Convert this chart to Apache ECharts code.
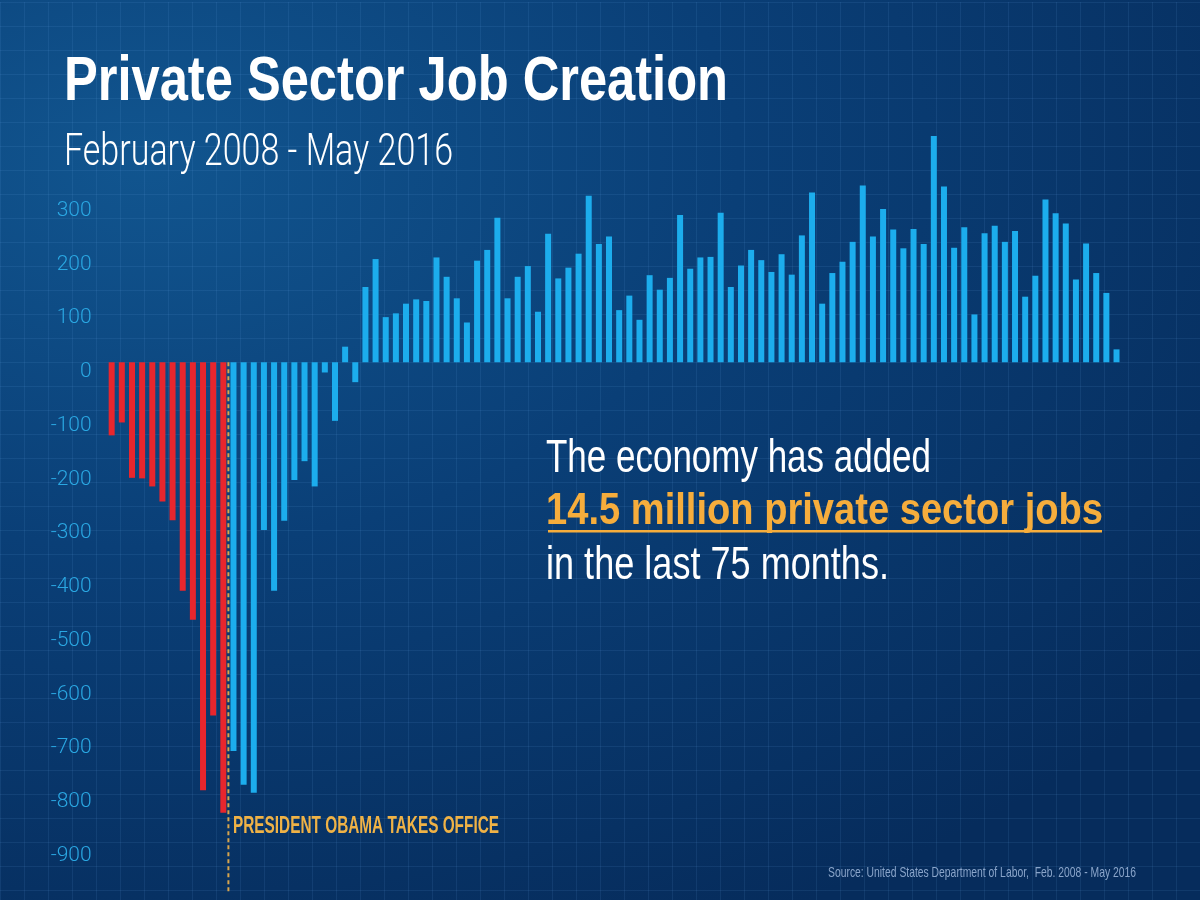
<!DOCTYPE html>
<html>
<head>
<meta charset="utf-8"/>
<title>Private Sector Job Creation</title>
<script src="https://cdn.jsdelivr.net/npm/echarts@6/dist/echarts.min.js"></script>
<style>
  html, body { margin: 0; padding: 0; }
  #chart {
    width: 1200px; height: 900px;
    background: radial-gradient(ellipse 110% 95% at 12% 18%, #11558f 0%, #0a3f77 45%, #062c5c 100%);
  }
</style>
</head>
<body>
<div id="chart"></div>
<script type="text/javascript">
    // monthly change in private sector jobs (thousands), Feb 2008 - May 2016
    var startYear = 2008, startMonth = 2;

    // Feb 2008 - Jan 2009
    var beforeOffice = [-136, -112, -215, -216, -231, -259, -294, -425, -479, -796, -657, -838];

    // Feb 2009 - May 2016
    var afterOffice = [
        -723, -786, -801, -312, -425, -295, -219, -184, -231, -19, -109, 29,
        -37, 140, 192, 84, 91, 109, 117, 114, 195, 159, 119, 74,
        189, 209, 269, 119, 159, 179, 94, 239, 156, 176, 202, 310,
        220, 234, 97, 124, 79, 162, 135, 157, 274, 174, 195, 196,
        278, 140, 180, 209, 190, 168, 201, 163, 236, 316, 109, 166,
        187, 224, 329, 234, 285, 247, 212, 248, 220, 421, 327, 213,
        251, 89, 240, 254, 224, 244, 122, 161, 303, 277, 258, 154,
        221, 166, 129, 24
    ];

    var yTicks = [300, 200, 100, 0, -100, -200, -300, -400, -500, -600, -700, -800, -900];

    var officeAt = beforeOffice.length - 0.5;   // between Jan and Feb 2009
    var officeLineEnd = -985;

    var total = beforeOffice.length + afterOffice.length;
    var months = [];
    for (var i = 0; i < total; i++) {
        var m = startMonth - 1 + i;
        months.push((startYear + Math.floor(m / 12)) + '-' + ('0' + (m % 12 + 1)).slice(-2));
    }
    var redData = beforeOffice.concat(afterOffice.map(function () { return '-'; }));
    var blueData = beforeOffice.map(function () { return '-'; }).concat(afterOffice);

    var NARROW = "'Liberation Sans Narrow', 'Liberation Sans', 'DejaVu Sans Condensed', sans-serif";
    var LIGHT = "Roboto, Lato, 'Open Sans', sans-serif";

    // squeeze text horizontally so it covers the same width as in the picture
    var ctx = document.createElement('canvas').getContext('2d');
    var fitText = function (text, weight, size, family, width) {
        ctx.font = weight + ' ' + size + 'px ' + family;
        return width / ctx.measureText(text).width;
    };
    var label = function (text, x, y, size, weight, family, color, width, align) {
        return {
            type: 'text',
            x: x, y: y,
            scaleX: fitText(text, weight, size, family, width),
            silent: true,
            z: 10,
            style: {
                text: text,
                fill: color,
                fontSize: size,
                fontWeight: weight,
                fontFamily: family,
                align: align || 'left',
                verticalAlign: 'middle'
            }
        };
    };

    var myChart = echarts.init(document.getElementById('chart'));

    var gridLine = { lineStyle: { color: 'rgba(110,170,235,0.11)', width: 1 } };

    var option = {
        backgroundColor: 'transparent',
        animation: false,
        grid: [
            { left: 106.6, right: 78.4, top: 93.5, bottom: 0.2 },
            { left: 0, right: 0, top: 2, bottom: 0 }
        ],
        xAxis: [
            { type: 'category', gridIndex: 0, data: months, show: false },
            { type: 'value', gridIndex: 0, min: -0.5, max: total - 0.5, show: false },
            {
                type: 'value', gridIndex: 1, min: 0, max: 1200, interval: 24,
                axisLine: { show: false }, axisTick: { show: false }, axisLabel: { show: false },
                splitLine: gridLine
            }
        ],
        yAxis: [
            {
                type: 'value', gridIndex: 0, min: -1000, max: 500, interval: 100,
                axisLine: { show: false }, axisTick: { show: false }, splitLine: { show: false },
                axisLabel: {
                    margin: 15,
                    color: '#2aa7e2',
                    fontSize: 21,
                    fontWeight: 300,
                    fontFamily: LIGHT,
                    verticalAlign: 'top',
                    lineHeight: 19,
                    formatter: function (v) {
                        return yTicks.indexOf(v) >= 0 ? String(v) : '';
                    }
                }
            },
            {
                type: 'value', gridIndex: 1, inverse: true, min: 0, max: 898, interval: 24,
                axisLine: { show: false }, axisTick: { show: false }, axisLabel: { show: false },
                splitLine: gridLine
            }
        ],
        series: [
            {
                name: 'Before office',
                type: 'bar',
                xAxisIndex: 0, yAxisIndex: 0,
                data: redData,
                barWidth: 6,
                barGap: '-100%',
                itemStyle: { color: '#e8262d' },
                silent: true
            },
            {
                name: 'After office',
                type: 'bar',
                xAxisIndex: 0, yAxisIndex: 0,
                data: blueData,
                barWidth: 6,
                barGap: '-100%',
                itemStyle: { color: '#1caded' },
                silent: true
            },
            {
                name: 'Takes office',
                type: 'line',
                xAxisIndex: 1, yAxisIndex: 0,
                data: [[officeAt, 0], [officeAt, officeLineEnd]],
                symbol: 'none',
                silent: true,
                z: 5,
                lineStyle: { color: '#d9a54c', width: 2, type: [4, 3] }
            }
        ],
        graphic: [
            label('Private Sector Job Creation', 64, 83, 63, 'bold', NARROW, '#ffffff', 664),
            label('February 2008 - May 2016', 64, 154, 45, 300, LIGHT, '#ffffff', 389),
            label('The economy has added', 546, 459, 46, 'normal', NARROW, '#ffffff', 385),
            label('14.5 million private sector jobs', 546, 512, 45, 'bold', NARROW, '#f6ad3c', 557),
            {
                type: 'rect', silent: true, z: 10,
                shape: { x: 548, y: 530, width: 554, height: 2.5 },
                style: { fill: '#f6ad3c' }
            },
            label('in the last 75 months.', 546, 566, 46, 'normal', NARROW, '#ffffff', 343),
            label('PRESIDENT OBAMA TAKES OFFICE', 233, 827, 23, 'bold', NARROW, '#efb246', 266),
            label('Source: United States Department of Labor,  Feb. 2008 - May 2016', 1136, 873, 15, 'normal', NARROW, '#8aa5ca', 308, 'right')
        ]
    };
    myChart.setOption(option);
</script>
</body>
</html>
